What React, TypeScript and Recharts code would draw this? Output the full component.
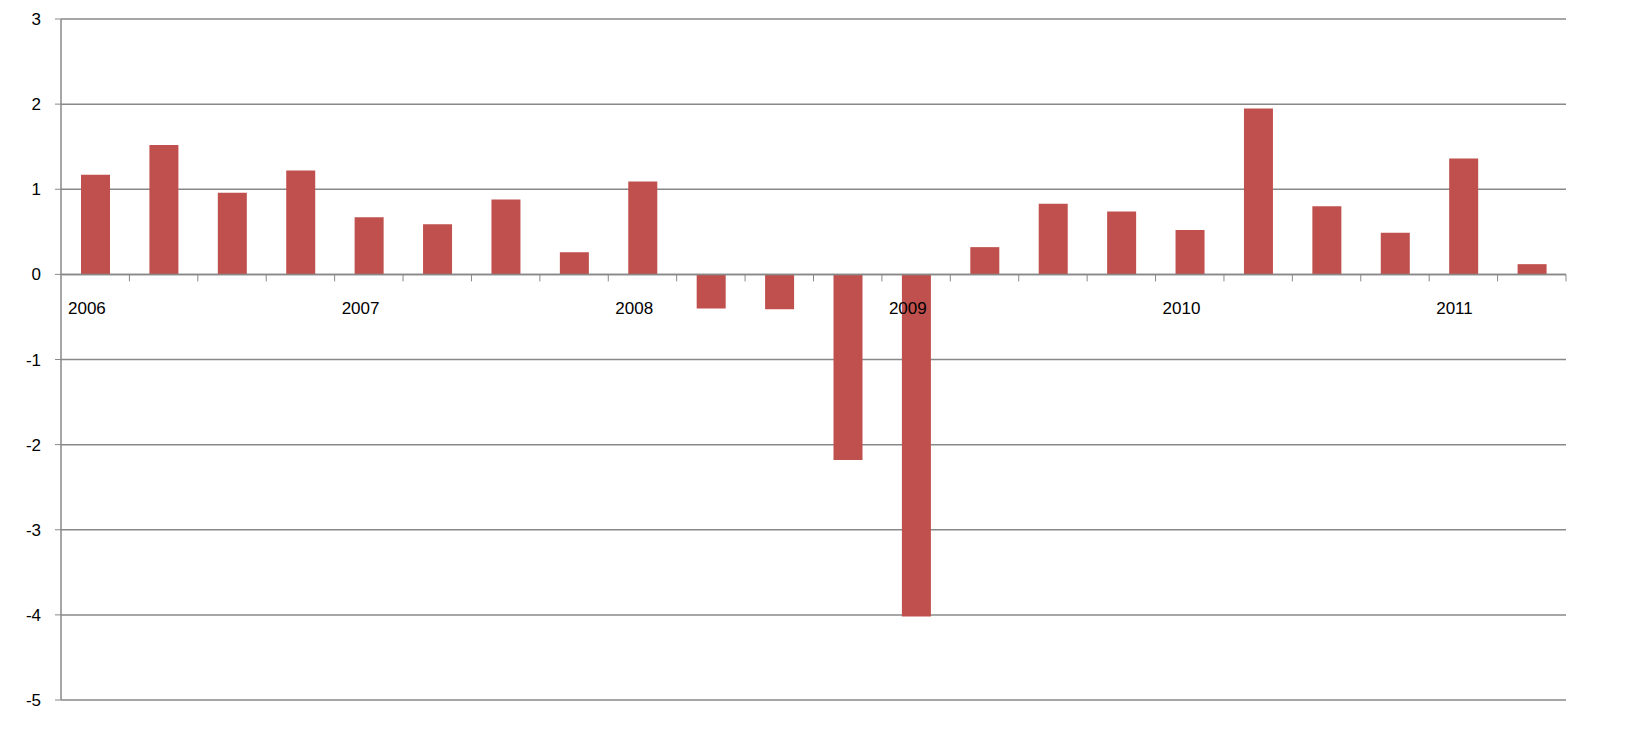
import { BarChart, Bar, XAxis, YAxis, CartesianGrid, ReferenceLine } from "recharts"

const quarters = [
  "2006Q1", "2006Q2", "2006Q3", "2006Q4",
  "2007Q1", "2007Q2", "2007Q3", "2007Q4",
  "2008Q1", "2008Q2", "2008Q3", "2008Q4",
  "2009Q1", "2009Q2", "2009Q3", "2009Q4",
  "2010Q1", "2010Q2", "2010Q3", "2010Q4",
  "2011Q1", "2011Q2",
]
const values = [
  1.17, 1.52, 0.96, 1.22,
  0.67, 0.59, 0.88, 0.26,
  1.09, -0.4, -0.41, -2.18,
  -4.02, 0.32, 0.83, 0.74,
  0.52, 1.95, 0.8, 0.49,
  1.36, 0.12,
]
const yTicks = [-5, -4, -3, -2, -1, 0, 1, 2, 3]

const data = quarters.map((q, i) => ({ q, v: values[i] }))

const W = 1628
const H = 736
const TOP = 19
const PLOT_H = 681
const ZERO_Y = TOP + (PLOT_H * 3) / 8
const CAT_W = (1566 - 61) / quarters.length

const QuarterTick = (props: any) => {
  const { x, payload } = props
  const q: string = payload.value
  const left = x - CAT_W / 2
  const isQ1 = q.endsWith("Q1")
  return (
    <g>
      <line x1={x + CAT_W / 2} x2={x + CAT_W / 2} y1={ZERO_Y} y2={ZERO_Y + 7} stroke="#888" />
      {isQ1 && (
        <text x={left + 7} y={ZERO_Y + 40} fill="#000" fontSize={17} fontFamily="Liberation Sans, Arial">
          {q.slice(0, 4)}
        </text>
      )}
    </g>
  )
}

export default function App() {
  return (
    <div style={{ position: "absolute", left: 0, top: 0, width: W, height: H, background: "#fff" }}>
      <BarChart width={W} height={H} data={data} margin={{ top: TOP, right: 62, left: 0, bottom: 0 }}>
        <CartesianGrid vertical={false} stroke="#888" strokeWidth={1.5} />
        <XAxis
          dataKey="q"
          height={36}
          axisLine={false}
          tickLine={false}
          interval={0}
          tick={<QuarterTick />}
        />
        <YAxis
          width={61}
          domain={[-5, 3]}
          ticks={yTicks}
          axisLine={{ stroke: "#888", strokeWidth: 1.5 }}
          tickLine={{ stroke: "#888" }}
          tickSize={6}
          tickMargin={14}
          tick={{ fill: "#000", fontSize: 17, fontFamily: "Liberation Sans, Arial" }}
        />
        <ReferenceLine y={0} stroke="#888" strokeWidth={1.5} />
        <Bar dataKey="v" fill="#C0504D" barSize={29} isAnimationActive={false} />
      </BarChart>
    </div>
  )
}
